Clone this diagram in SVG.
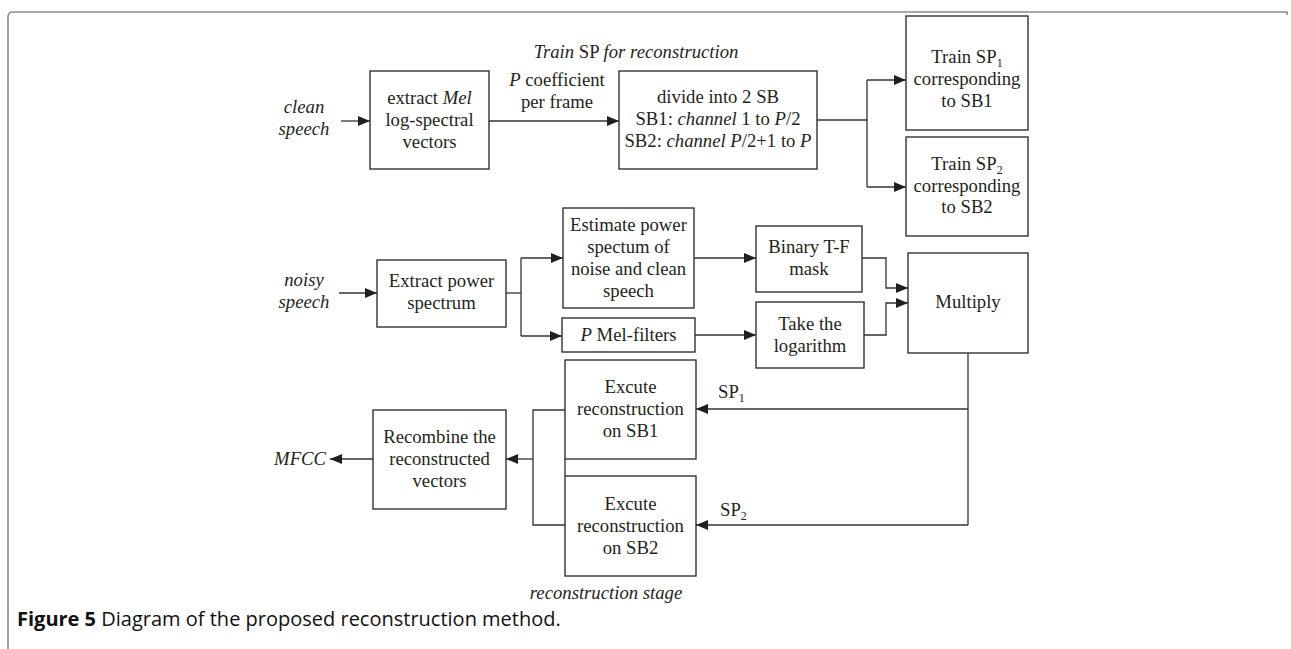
<svg xmlns="http://www.w3.org/2000/svg" width="1291" height="649" viewBox="0 0 1291 649">
<defs>
<marker id="ah" markerUnits="userSpaceOnUse" markerWidth="12" markerHeight="10" refX="12" refY="5" orient="auto">
<path d="M0,0 L12,5 L0,10 z" fill="#231f20"/>
</marker>
<style>
.box{fill:#fff;stroke:#333;stroke-width:1.4}
.ln{fill:none;stroke:#333;stroke-width:1.3}
.ar{fill:none;stroke:#333;stroke-width:1.3;marker-end:url(#ah)}
text{font-family:"Liberation Serif","Times New Roman",serif;font-size:18.7px;fill:#231f20}
.c{text-anchor:middle}
.i{font-style:italic}
.sub{font-size:12px}
.cap{font-family:"Open Sans","Liberation Sans",sans-serif;font-size:20px;fill:#111}
</style>
</defs>
<path d="M8,649 V17 Q8,12 13,12 H1287 V15" fill="none" stroke="#8a8a8a" stroke-width="1.6"/>

<g id="connectors">
<line class="ar" x1="341" y1="121" x2="370" y2="121"/>
<line class="ar" x1="489" y1="121" x2="619" y2="121"/>
<polyline class="ln" points="817,120 867,120"/>
<line class="ln" x1="867" y1="80" x2="867" y2="187"/>
<line class="ar" x1="867" y1="80" x2="906" y2="80"/>
<line class="ar" x1="867" y1="187" x2="906" y2="187"/>
<line class="ar" x1="339" y1="293" x2="377" y2="293"/>
<line class="ln" x1="506" y1="293" x2="521" y2="293"/>
<line class="ln" x1="521" y1="258" x2="521" y2="336"/>
<line class="ar" x1="521" y1="258" x2="563" y2="258"/>
<line class="ar" x1="521" y1="336" x2="562" y2="336"/>
<line class="ar" x1="694" y1="258" x2="756" y2="258"/>
<line class="ar" x1="695" y1="335" x2="756" y2="335"/>
<polyline class="ar" points="862,258 886,258 886,288 908,288"/>
<polyline class="ar" points="864,335 886,335 886,303 908,303"/>
<line class="ln" x1="968" y1="353" x2="968" y2="525"/>
<line class="ar" x1="968" y1="409" x2="696" y2="409"/>
<line class="ar" x1="968" y1="525" x2="696" y2="525"/>
<line class="ln" x1="565" y1="459" x2="565" y2="476"/>
<polyline class="ln" points="565,410 533,410 533,525 565,525"/>
<line class="ar" x1="533" y1="459" x2="506" y2="459"/>
<line class="ar" x1="373" y1="459" x2="330" y2="459"/>
</g>

<g id="labels">
<text class="c" x="636" y="58"><tspan class="i">Train</tspan> SP <tspan class="i">for reconstruction</tspan></text>
<text class="c i" x="304" y="113">clean</text>
<text class="c i" x="304" y="135">speech</text>
<text class="c" x="557" y="86"><tspan class="i">P</tspan> coefficient</text>
<text class="c" x="557" y="108">per frame</text>
<text class="c i" x="304" y="286">noisy</text>
<text class="c i" x="304" y="308">speech</text>
<text x="718" y="398">SP<tspan class="sub" dy="4">1</tspan></text>
<text x="720" y="516">SP<tspan class="sub" dy="4">2</tspan></text>
<text class="i" x="326" y="465" text-anchor="end">MFCC</text>
<text class="c i" x="606" y="599">reconstruction stage</text>
</g>

<g id="extract-mel">
<rect class="box" x="370" y="71" width="119" height="98"/>
<text class="c" x="429.5" y="104">extract <tspan class="i">Mel</tspan></text>
<text class="c" x="429.5" y="126">log-spectral</text>
<text class="c" x="429.5" y="148">vectors</text>
</g>

<g id="divide">
<rect class="box" x="619" y="71" width="198" height="98"/>
<text class="c" x="718" y="103">divide into 2 SB</text>
<text class="c" x="718" y="125">SB1: <tspan class="i">channel</tspan> 1 to <tspan class="i">P</tspan>/2</text>
<text class="c" x="718" y="147">SB2: <tspan class="i">channel P</tspan>/2+1 to <tspan class="i">P</tspan></text>
</g>

<g id="train-sp1">
<rect class="box" x="906" y="16" width="122" height="114"/>
<text class="c" x="967" y="63">Train SP<tspan class="sub" dy="4">1</tspan></text>
<text class="c" x="967" y="85">corresponding</text>
<text class="c" x="967" y="107">to SB1</text>
</g>

<g id="train-sp2">
<rect class="box" x="906" y="137" width="122" height="99"/>
<text class="c" x="967" y="170">Train SP<tspan class="sub" dy="4">2</tspan></text>
<text class="c" x="967" y="192">corresponding</text>
<text class="c" x="967" y="213">to SB2</text>
</g>

<g id="extract-power">
<rect class="box" x="377" y="260" width="129" height="67"/>
<text class="c" x="441.5" y="287">Extract power</text>
<text class="c" x="441.5" y="309">spectrum</text>
</g>

<g id="estimate">
<rect class="box" x="563" y="208" width="131" height="100"/>
<text class="c" x="628.5" y="231">Estimate power</text>
<text class="c" x="628.5" y="253">spectum of</text>
<text class="c" x="628.5" y="275">noise and clean</text>
<text class="c" x="628.5" y="297">speech</text>
</g>

<g id="mel-filters">
<rect class="box" x="562" y="318" width="133" height="34"/>
<text class="c" x="628.5" y="341"><tspan class="i">P</tspan> Mel-filters</text>
</g>

<g id="binary-mask">
<rect class="box" x="756" y="226" width="106" height="66"/>
<text class="c" x="809" y="253">Binary T-F</text>
<text class="c" x="809" y="275">mask</text>
</g>

<g id="logarithm">
<rect class="box" x="756" y="302" width="108" height="66"/>
<text class="c" x="810" y="330">Take the</text>
<text class="c" x="810" y="352">logarithm</text>
</g>

<g id="multiply">
<rect class="box" x="908" y="253" width="120" height="100"/>
<text class="c" x="968" y="308">Multiply</text>
</g>

<g id="excute-sb1">
<rect class="box" x="565" y="360" width="131" height="99"/>
<text class="c" x="630.5" y="393">Excute</text>
<text class="c" x="630.5" y="415">reconstruction</text>
<text class="c" x="630.5" y="437">on SB1</text>
</g>

<g id="excute-sb2">
<rect class="box" x="565" y="476" width="131" height="100"/>
<text class="c" x="630.5" y="510">Excute</text>
<text class="c" x="630.5" y="532">reconstruction</text>
<text class="c" x="630.5" y="554">on SB2</text>
</g>

<g id="recombine">
<rect class="box" x="373" y="410" width="133" height="99"/>
<text class="c" x="439.5" y="443">Recombine the</text>
<text class="c" x="439.5" y="465">reconstructed</text>
<text class="c" x="439.5" y="487">vectors</text>
</g>

<text class="cap" x="17" y="626"><tspan font-weight="bold">Figure 5</tspan> Diagram of the proposed reconstruction method.</text>
</svg>
